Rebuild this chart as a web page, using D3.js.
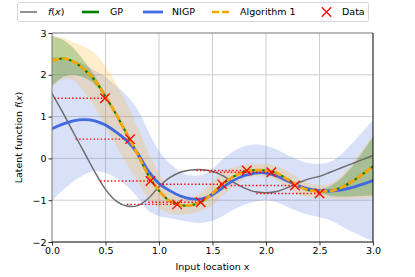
<!DOCTYPE html>
<html>
<head>
<meta charset="utf-8">
<script src="https://cdn.jsdelivr.net/npm/d3@7"></script>
<style>
  body { margin: 0; background: #fff; }
  svg { font-family: "DejaVu Sans", sans-serif; }
</style>
</head>
<body>
<svg id="chart" width="415" height="277"></svg>
<script>
// sample grid for the curves (0 .. 3, step 0.1)
const xGrid = d3.range(0, 3.001, 0.1);

// latent function f(x)
const fTrue = [1.55, 1.1, 0.62, 0.15, -0.32, -0.74, -1.02, -1.14, -1.13, -0.96, -0.68,
  -0.46, -0.33, -0.28, -0.27, -0.31, -0.42, -0.58, -0.71, -0.8, -0.82,
  -0.79, -0.7, -0.59, -0.49, -0.43, -0.33, -0.23, -0.13, -0.03, 0.07];

// GP / Algorithm 1 mean (they coincide)
const gpMean = [2.33, 2.39, 2.32, 2.13, 1.87, 1.48, 1.05, 0.58, 0.1, -0.4, -0.77,
  -1.02, -1.12, -1.12, -1.03, -0.84, -0.6, -0.43, -0.32, -0.28, -0.29,
  -0.35, -0.5, -0.66, -0.76, -0.79, -0.78, -0.7, -0.56, -0.38, -0.19];
const gpHalf = [0.6, 0.45, 0.32, 0.2, 0.1, 0.04, 0.02, 0.02, 0.02, 0.02, 0.02,
  0.02, 0.02, 0.02, 0.02, 0.02, 0.02, 0.02, 0.02, 0.02, 0.02,
  0.02, 0.02, 0.02, 0.02, 0.04, 0.12, 0.22, 0.35, 0.52, 0.7];
const algHalf = [0.6, 0.5, 0.45, 0.55, 0.65, 0.72, 0.75, 0.72, 0.65, 0.55, 0.42,
  0.3, 0.22, 0.2, 0.22, 0.28, 0.28, 0.22, 0.17, 0.15, 0.15,
  0.17, 0.2, 0.2, 0.17, 0.15, 0.18, 0.28, 0.42, 0.58, 0.75];

// NIGP mean and band half width
const nigpMean = [0.71, 0.82, 0.9, 0.93, 0.9, 0.8, 0.63, 0.42, 0.12, -0.3, -0.6,
  -0.77, -0.9, -0.97, -0.97, -0.87, -0.69, -0.52, -0.41, -0.35, -0.35,
  -0.42, -0.54, -0.65, -0.73, -0.77, -0.78, -0.76, -0.7, -0.62, -0.53];
const nigpHalf = [1.72, 1.58, 1.45, 1.32, 1.2, 1.15, 1.1, 1.08, 1.05, 0.95, 0.78,
  0.66, 0.58, 0.56, 0.57, 0.62, 0.68, 0.7, 0.7, 0.68, 0.65,
  0.63, 0.62, 0.62, 0.62, 0.64, 0.7, 0.85, 1.05, 1.25, 1.45];

// observations: noisy input, output, true input
const dataX = [0.495, 0.73, 0.92, 1.17, 1.39, 1.59, 1.82, 2.05, 2.27, 2.5];
const dataY = [1.44, 0.46, -0.54, -1.1, -1.05, -0.62, -0.29, -0.33, -0.65, -0.84];
const trueX = [0.02, 0.22, 0.45, 0.7, 0.9, 1.0, 1.35, 1.47, 1.67, 1.91];

const xTicks = [0, 0.5, 1, 1.5, 2, 2.5, 3];
const yTicks = [-2, -1, 0, 1, 2, 3];

const legendLabels = ['f(x)', 'GP', 'NIGP', 'Algorithm 1', 'Data'];

const COLORS = {
  f: '#6b6b6b', gp: '#008000', nigp: '#4169e1', alg: '#ffa500', data: '#ff0000'
};
const ALG_DASH = '7.5,2.5';

const margin = {left: 52, top: 33, right: 42, bottom: 35};
const W = 415, H = 277;
const iw = W - margin.left - margin.right;
const ih = H - margin.top - margin.bottom;

const svg = d3.select('#chart');
const g = svg.append('g').attr('transform', `translate(${margin.left},${margin.top})`);

const x = d3.scaleLinear().domain([0, 3]).range([0, iw]);
const y = d3.scaleLinear().domain([-2, 3]).range([ih, 0]);

g.append('clipPath').attr('id', 'clip')
  .append('rect').attr('width', iw).attr('height', ih);

// grid
g.append('g').selectAll('line').data(xTicks.slice(1, -1)).join('line')
  .attr('x1', d => x(d)).attr('x2', d => x(d)).attr('y1', 0).attr('y2', ih)
  .attr('stroke', '#c8c8c8').attr('stroke-width', 0.9);
g.append('g').selectAll('line').data(yTicks.slice(1, -1)).join('line')
  .attr('y1', d => y(d)).attr('y2', d => y(d)).attr('x1', 0).attr('x2', iw)
  .attr('stroke', '#c8c8c8').attr('stroke-width', 0.9);

const plot = g.append('g').attr('clip-path', 'url(#clip)');

const band = (mean, half) => d3.area()
  .x((d, i) => x(xGrid[i]))
  .y0((d, i) => y(mean[i] - half[i]))
  .y1((d, i) => y(mean[i] + half[i]))
  .curve(d3.curveCatmullRom);

const lineOf = (vals) => d3.line()
  .x((d, i) => x(xGrid[i]))
  .y(d => y(d))
  .curve(d3.curveCatmullRom)(vals);

// uncertainty bands
plot.append('path').attr('d', band(nigpMean, nigpHalf)(xGrid))
  .attr('fill', COLORS.nigp).attr('fill-opacity', 0.2);
plot.append('path').attr('d', band(gpMean, algHalf)(xGrid))
  .attr('fill', COLORS.alg).attr('fill-opacity', 0.2);
plot.append('path').attr('d', band(gpMean, gpHalf)(xGrid))
  .attr('fill', COLORS.gp).attr('fill-opacity', 0.25);

// lines
plot.append('path').attr('d', lineOf(fTrue))
  .attr('fill', 'none').attr('stroke', COLORS.f).attr('stroke-width', 1.5);
plot.append('path').attr('d', lineOf(gpMean))
  .attr('fill', 'none').attr('stroke', COLORS.gp).attr('stroke-width', 2.2);
plot.append('path').attr('d', lineOf(nigpMean))
  .attr('fill', 'none').attr('stroke', COLORS.nigp).attr('stroke-width', 2.8);
plot.append('path').attr('d', lineOf(gpMean))
  .attr('fill', 'none').attr('stroke', COLORS.alg).attr('stroke-width', 2.7)
  .attr('stroke-dasharray', ALG_DASH);

// input-noise segments
plot.append('g').selectAll('line').data(dataX).join('line')
  .attr('x1', (d, i) => x(trueX[i])).attr('x2', d => x(d))
  .attr('y1', (d, i) => y(dataY[i])).attr('y2', (d, i) => y(dataY[i]))
  .attr('stroke', COLORS.data).attr('stroke-width', 1.4)
  .attr('stroke-dasharray', '1.4,2.2');

// data crosses
const cross = d3.symbol().type(d3.symbolX).size(60);
plot.append('g').selectAll('path').data(dataX).join('path')
  .attr('transform', (d, i) => `translate(${x(d)},${y(dataY[i])})`)
  .attr('d', cross)
  .attr('fill', 'none').attr('stroke', COLORS.data).attr('stroke-width', 1.3);

// spines
g.append('line').attr('x1', 0).attr('x2', iw).attr('y1', 0).attr('y2', 0)
  .attr('stroke', '#777').attr('stroke-width', 1);
g.append('line').attr('x1', 0).attr('x2', 0).attr('y1', 0).attr('y2', ih)
  .attr('stroke', '#777').attr('stroke-width', 1);
g.append('line').attr('x1', iw).attr('x2', iw).attr('y1', 0).attr('y2', ih)
  .attr('stroke', '#000').attr('stroke-width', 1);
g.append('line').attr('x1', 0).attr('x2', iw).attr('y1', ih).attr('y2', ih)
  .attr('stroke', '#000').attr('stroke-width', 1);

// axes
const xAxis = g.append('g').attr('transform', `translate(0,${ih})`)
  .call(d3.axisBottom(x).tickValues(xTicks).tickFormat(d3.format('.1f'))
    .tickSize(3.5).tickPadding(2));
const yAxis = g.append('g')
  .call(d3.axisLeft(y).tickValues(yTicks).tickFormat(d => d < 0 ? '\u2212' + Math.abs(d) : d)
    .tickSize(3.5).tickPadding(2));
[xAxis, yAxis].forEach(a => {
  a.select('.domain').remove();
  a.selectAll('text').attr('font-size', 9.5).attr('fill', '#000')
    .attr('font-family', '"DejaVu Sans", sans-serif');
  a.selectAll('line').attr('stroke', '#000').attr('stroke-width', 0.8);
});

// axis labels
svg.append('text').attr('x', margin.left + iw / 2).attr('y', 270)
  .attr('text-anchor', 'middle').attr('font-size', 9.5).text('Input location x');
const yl = svg.append('text')
  .attr('transform', `translate(22,${margin.top + ih / 2}) rotate(-90)`)
  .attr('text-anchor', 'middle').attr('font-size', 9.5);
yl.append('tspan').text('Latent function ');
yl.append('tspan').attr('font-style', 'italic').text('f');
yl.append('tspan').text('(');
yl.append('tspan').attr('font-style', 'italic').text('x');
yl.append('tspan').text(')');

// legend
const leg = svg.append('g');
leg.append('rect').attr('x', 17.5).attr('y', 2.5).attr('width', 351).attr('height', 19)
  .attr('rx', 2).attr('fill', '#fff').attr('fill-opacity', 0.8)
  .attr('stroke', '#ccc').attr('stroke-width', 0.8);
const legX = [20, 82, 143, 212, 318];
const legY = 12;
const items = leg.selectAll('g').data(legendLabels).join('g')
  .attr('transform', (d, i) => `translate(${legX[i]},${legY})`);
items.each(function(d, i) {
  const it = d3.select(this);
  if (i === 0) {
    it.append('line').attr('x1', 0).attr('x2', 17).attr('stroke', COLORS.f).attr('stroke-width', 1.5);
  } else if (i === 1) {
    it.append('line').attr('x1', 0).attr('x2', 17).attr('stroke', COLORS.gp).attr('stroke-width', 2.6);
  } else if (i === 2) {
    it.append('line').attr('x1', 0).attr('x2', 20).attr('stroke', COLORS.nigp).attr('stroke-width', 2.8);
  } else if (i === 3) {
    it.append('line').attr('x1', 0).attr('x2', 19).attr('stroke', COLORS.alg).attr('stroke-width', 2.6)
      .attr('stroke-dasharray', '7,3');
  } else {
    it.append('path').attr('transform', 'translate(8.5,0)').attr('d', cross)
      .attr('fill', 'none').attr('stroke', COLORS.data).attr('stroke-width', 1.3);
  }
  const tx = i === 2 ? 29 : (i === 4 ? 24 : 28);
  const t = it.append('text').attr('x', tx).attr('y', 3.3).attr('font-size', 9.5);
  if (i === 0) {
    t.append('tspan').attr('font-style', 'italic').text('f');
    t.append('tspan').text('(');
    t.append('tspan').attr('font-style', 'italic').text('x');
    t.append('tspan').text(')');
  } else {
    t.text(d);
  }
});
</script>
</body>
</html>
